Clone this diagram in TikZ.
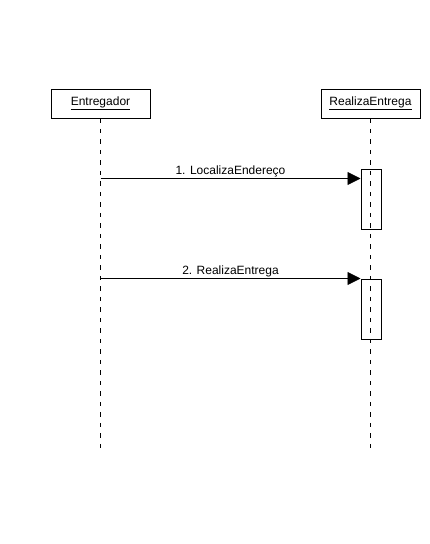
\documentclass[tikz,border=0pt]{standalone}
\usepackage{fontspec}
\setmainfont{Liberation Sans}
\usetikzlibrary{arrows.meta}
\begin{document}
\begin{tikzpicture}[x=1pt,y=-1pt,
  every node/.style={font=\fontsize{12}{14}\selectfont},
  actor/.style={draw,line width=0.8pt,minimum width=99pt,minimum height=29pt,inner sep=0pt},
  life/.style={line width=0.8pt,dash pattern=on 4.5pt off 6pt},
  act/.style={draw,line width=0.8pt,minimum width=20pt,minimum height=60pt,inner sep=0pt,anchor=north west},
  msg/.style={line width=0.8pt,-{Triangle[length=13pt,width=13pt]}},
  lbl/.style={inner sep=0pt,anchor=base}]
\useasboundingbox (0,0) rectangle (429,544);
\node[actor] (e) at (100.5,103.5) {\underline{Entregador}};
\node[actor] (r) at (370.5,103.5) {\underline{RealizaEntrega}};
\coordinate (eend) at (100.5,448);
\coordinate (rend) at (370.5,448);
\draw[life] (e.south) -- (eend);
\draw[life] (r.south) -- (rend);
\node[act] (a1) at (360.5,168.5) {};
\node[act] (a2) at (360.5,278.5) {};
\coordinate (s1) at (100.5,178.5);
\coordinate (s2) at (100.5,278.5);
\draw[msg] (s1) -- (s1 -| a1.west);
\draw[msg] (s2) -- (s2 -| a2.west);
\node[lbl] (l1) at (230.5,174) {1. LocalizaEndereço};
\node[lbl] (l2) at (230.5,274) {2. RealizaEntrega};
\end{tikzpicture}
\end{document}
